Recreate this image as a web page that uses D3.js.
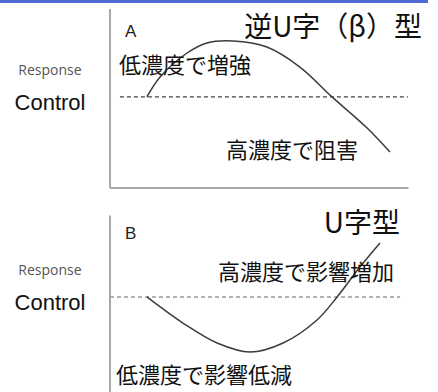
<!DOCTYPE html>
<html>
<head>
<meta charset="utf-8">
<script src="https://cdn.jsdelivr.net/npm/d3@7"></script>
<style>
  body { margin: 0; background: #fff; }
  svg { display: block; }
</style>
</head>
<body>
<script>
"use strict";

// Data (concentration 0-100, response 0-100)

const controlA = 50.6;
const curveAx = [12.3, 16.7, 25.7, 32.3, 41, 52.3, 63.3, 74, 85.7, 93.3];
const curveAy = [50.6, 61.7, 75, 80.6, 81.7, 78.3, 67.2, 50.6, 33.3, 20];

const controlB = 52.8;
const curveBx = [12.3, 24.3, 35.7, 46.7, 57.7, 69, 75.7, 83.3, 90];
const curveBy = [52.8, 38.3, 27.2, 22.2, 27.2, 40, 52.8, 69.4, 82.8];

const panelTitles = ["逆U字（β）型", "U字型"];
const panelLetters = ["A", "B"];
const labelsA = ["低濃度で増強", "高濃度で阻害"];
const labelsB = ["高濃度で影響増加", "低濃度で影響低減"];

// Size parameters

const width = 438;
const height = 392;
const cjk = '"Noto Sans CJK JP", "Noto Sans", sans-serif';

const svg = d3.select('body')
    .append('svg')
    .attr('width', width)
    .attr('height', height);

// top blue band
svg.append('rect')
    .attr('x', 0).attr('y', 0)
    .attr('width', 428).attr('height', 3)
    .attr('fill', '#5169d3');

const x = d3.scaleLinear().domain([0, 100]).range([110, 410]);
const yA = d3.scaleLinear().domain([0, 100]).range([188, 8]);
const yB = d3.scaleLinear().domain([0, 100]).range([392, 212]);

const line = (y) => d3.line()
    .x(d => x(d[0]))
    .y(d => y(d[1]))
    .curve(d3.curveCatmullRom.alpha(0.5));

/***************
 * Render panel *
 ***************/

const renderPanel = (y, xs, ys, control, opts) => {
    const g = svg.append('g');

    // axes
    g.append('line')
        .attr('x1', x(0)).attr('x2', x(0))
        .attr('y1', y(opts.axisTop)).attr('y2', y(0))
        .attr('stroke', '#a8a8a8').attr('stroke-width', 2);
    if (opts.xAxis) {
        g.append('line')
            .attr('x1', x(0)).attr('x2', x(99.5))
            .attr('y1', y(0)).attr('y2', y(0))
            .attr('stroke', '#a8a8a8').attr('stroke-width', 2);
    }

    // control line
    g.append('line')
        .attr('x1', x(opts.dashStart)).attr('x2', x(opts.dashEnd))
        .attr('y1', y(control)).attr('y2', y(control))
        .attr('stroke', opts.dashColor)
        .attr('stroke-width', opts.dashWidth)
        .attr('stroke-dasharray', '4,3');

    // response curve
    g.append('path')
        .datum(xs.map((v, i) => [v, ys[i]]))
        .attr('d', line(y))
        .attr('fill', 'none')
        .attr('stroke', '#3c3c3c')
        .attr('stroke-width', 1.5);

    // left labels
    g.append('text')
        .attr('x', 50).attr('y', y(control) - 27)
        .attr('text-anchor', 'middle')
        .attr('dominant-baseline', 'central')
        .attr('font-family', '"Open Sans", sans-serif')
        .attr('font-size', 14)
        .attr('fill', '#555')
        .text('Response');
    g.append('text')
        .attr('x', 50).attr('y', y(control) + 6)
        .attr('text-anchor', 'middle')
        .attr('dominant-baseline', 'central')
        .attr('font-family', '"Liberation Sans", Arial, sans-serif')
        .attr('font-size', 22)
        .attr('fill', '#111')
        .text('Control');

    // panel letter
    g.append('text')
        .attr('x', x(5)).attr('y', opts.letterY)
        .attr('font-family', '"Liberation Sans", Arial, sans-serif')
        .attr('font-size', 17)
        .attr('fill', '#222')
        .text(opts.letter);

    // title
    g.append('text')
        .attr('x', opts.titleX).attr('y', opts.titleY)
        .attr('text-anchor', 'end')
        .attr('font-family', cjk)
        .attr('font-size', 28)
        .attr('fill', '#111')
        .text(opts.title);

    // annotations
    opts.notes.forEach(n => {
        g.append('text')
            .attr('x', n.x).attr('y', n.y)
            .attr('dominant-baseline', 'central')
            .attr('font-family', cjk)
            .attr('font-size', 22)
            .attr('fill', '#111')
            .text(n.text);
    });
};

renderPanel(yA, curveAx, curveAy, controlA, {
    axisTop: 99.5, xAxis: true,
    dashStart: 3.3, dashEnd: 99.3, dashColor: '#444', dashWidth: 1.2,
    letter: panelLetters[0], letterY: 37,
    title: panelTitles[0], titleX: 422, titleY: 37,
    notes: [
        { text: labelsA[0], x: 119, y: 63 },
        { text: labelsA[1], x: 226, y: 148 }
    ]
});

renderPanel(yB, curveBx, curveBy, controlB, {
    axisTop: 98, xAxis: false,
    dashStart: 0, dashEnd: 96.7, dashColor: '#999', dashWidth: 1.6,
    letter: panelLetters[1], letterY: 239,
    title: panelTitles[1], titleX: 400, titleY: 233,
    notes: [
        { text: labelsB[0], x: 218, y: 270 },
        { text: labelsB[1], x: 116, y: 373 }
    ]
});
</script>
</body>
</html>
